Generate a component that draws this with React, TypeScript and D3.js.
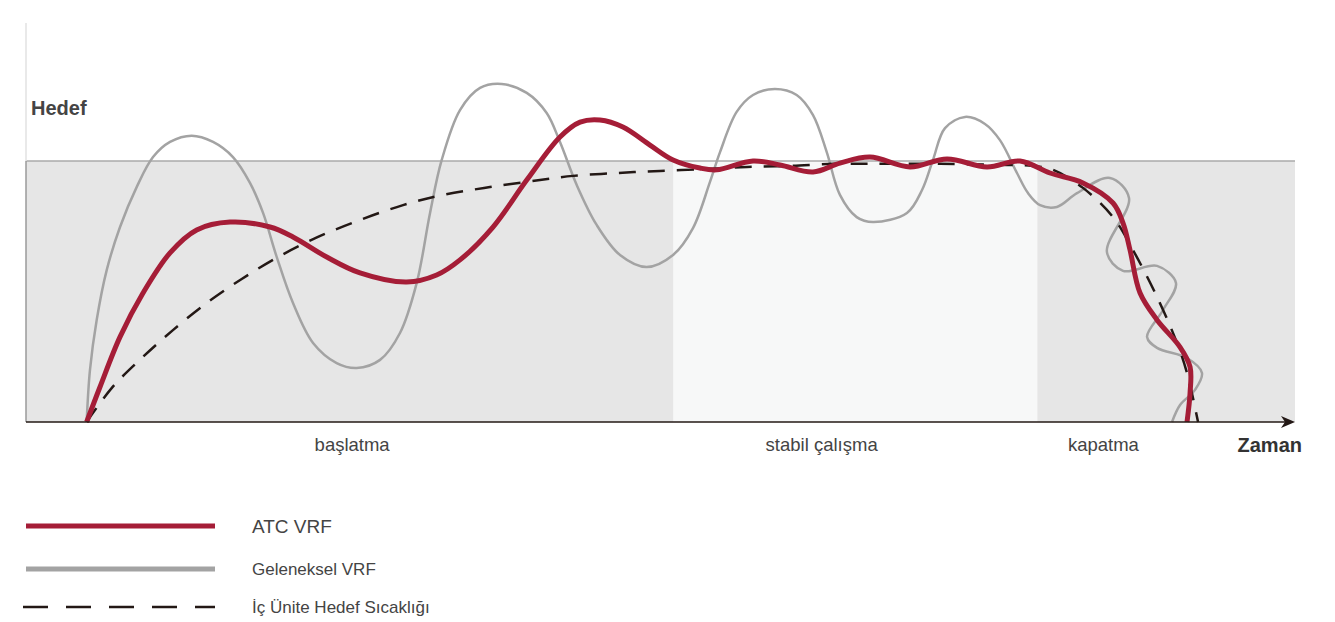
import React from "react";
import * as d3 from "d3";

// Time axis 0..100, value axis: 100 = "Hedef" (target)
const phaseLabels = ["başlatma", "stabil çalışma", "kapatma"];
const phaseCenters = [25.7, 62.7, 84.9];
const stableStart = 51.0;
const stableEnd = 79.7;

const atcT = [4.78, 5.83, 7.41, 9.22, 11.35, 13.45, 16.08, 19.23, 21.04, 23.7, 26.32, 30.0, 32.36, 34.2, 36.8, 39.46, 42.08, 43.66, 45.23, 47.04, 49.17, 50.99, 53.11, 54.43, 57.29, 59.42, 62.02, 64.14, 66.51, 69.66, 72.58, 75.73, 78.33, 80.69, 83.29, 85.66, 86.45, 87.0, 87.79, 89.13, 90.94, 91.73, 91.73, 91.49];
const atcV = [0, 13.4, 32.6, 49.4, 64.8, 73.6, 76.6, 74.7, 70.9, 63.2, 57.1, 53.6, 56.3, 62.1, 74.7, 92.7, 109.2, 114.9, 115.7, 113.0, 106.1, 100.4, 97.3, 96.6, 100.0, 98.5, 95.8, 99.2, 101.5, 97.7, 100.8, 97.7, 100.0, 95.4, 91.6, 83.9, 76.2, 65.9, 49.4, 39.1, 28.7, 21.1, 11.1, 0];

const convT = [4.78, 5.04, 5.57, 6.36, 7.41, 8.72, 10.01, 11.35, 13.06, 14.74, 16.31, 17.65, 18.68, 19.76, 21.04, 22.62, 24.48, 26.06, 27.9, 29.47, 30.79, 31.84, 32.76, 34.2, 35.78, 37.49, 39.46, 41.03, 42.08, 43.4, 44.97, 46.81, 48.91, 50.99, 52.56, 53.9, 54.69, 56.0, 57.29, 59.02, 60.73, 62.02, 63.1, 64.14, 65.46, 66.75, 69.42, 70.61, 71.47, 72.42, 74.0, 75.57, 76.75, 78.09, 78.96, 79.91, 81.24, 82.82, 85.42, 86.92, 85.18, 86.45, 89.13, 90.62, 89.6, 88.34, 89.13, 91.49, 92.67, 92.12, 90.94, 90.31];
const convV = [0, 19.9, 39.1, 58.2, 74.7, 90.0, 101.5, 107.3, 109.7, 107.3, 101.5, 91.6, 80.1, 63.2, 45.6, 30.3, 22.6, 20.7, 23.8, 34.1, 53.3, 80.1, 100.4, 119.5, 128.0, 129.5, 126.1, 118.4, 107.3, 90.8, 75.5, 64.0, 59.4, 64.0, 74.3, 92.0, 103.4, 118.8, 125.3, 127.6, 125.3, 117.6, 103.4, 87.0, 78.5, 76.6, 80.1, 88.9, 100.4, 112.6, 116.9, 114.2, 108.0, 95.4, 87.7, 83.1, 82.4, 87.7, 93.5, 85.8, 65.1, 57.9, 59.8, 53.3, 42.9, 32.6, 28.4, 24.5, 18.8, 12.3, 6.5, 0];

const targetT = [4.78, 6.75, 9.12, 11.58, 14.24, 17.0, 19.86, 23.01, 26.32, 29.71, 32.86, 36.56, 40.5, 43.11, 46.57, 49.96, 53.66, 56.82, 60.2, 63.59, 66.51, 72.03, 77.3, 79.35, 80.93, 83.29, 85.66, 87.23, 89.13, 90.7, 91.49, 92.36];
const targetV = [0, 13.0, 24.5, 35.2, 45.6, 54.8, 63.2, 70.9, 77.4, 83.1, 87.0, 90.0, 92.7, 94.3, 95.4, 96.2, 96.9, 97.7, 98.1, 98.9, 98.9, 98.9, 98.5, 98.1, 96.6, 89.7, 78.5, 65.9, 47.9, 30.3, 18.8, 0];

const legendLabels = ["ATC VRF", "Geleneksel VRF", "İç Ünite Hedef Sıcaklığı"];

const RED = "#a51d37";
const GRAY = "#a3a3a3";
const DARK = "#231815";
const FONT = "'Liberation Sans', Arial, Helvetica, sans-serif";

export default function App() {
  const W = 1335;
  const H = 622;
  const x = d3.scaleLinear().domain([0, 100]).range([26, 1295]);
  const y = d3.scaleLinear().domain([0, 100]).range([422, 161]);

  const line = d3
    .line<[number, number]>()
    .x((d) => x(d[0]))
    .y((d) => y(d[1]))
    .curve(d3.curveCatmullRom.alpha(0.5));

  const zip = (a: number[], b: number[]) => a.map((t, i) => [t, b[i]] as [number, number]);

  const x0 = x(0);
  const x1 = x(100);
  const yTop = y(100);
  const yBase = y(0);

  return (
    <div style={{ position: "absolute", left: 0, top: 0 }}>
      <svg width={W} height={H} style={{ display: "block" }}>
        {/* background zones */}
        <rect x={x0} y={yTop} width={x1 - x0} height={yBase - yTop} fill="#e6e6e6" />
        <rect x={x(stableStart)} y={yTop} width={x(stableEnd) - x(stableStart)} height={yBase - yTop} fill="#f7f8f8" />
        <line x1={x0} x2={x1} y1={yTop} y2={yTop} stroke="#aaaaaa" strokeWidth={1.5} />
        {/* vertical axis */}
        <line x1={x0} x2={x0} y1={23} y2={yTop} stroke="#e2e2e2" strokeWidth={1.5} />
        <line x1={x0} x2={x0} y1={yTop} y2={yBase} stroke="#9a9a9a" strokeWidth={1.5} />

        {/* curves */}
        <path d={line(zip(convT, convV)) || ""} fill="none" stroke={GRAY} strokeWidth={2.5} />
        <path d={line(zip(targetT, targetV)) || ""} fill="none" stroke={DARK} strokeWidth={2.5} strokeDasharray="17 12" />
        <path d={line(zip(atcT, atcV)) || ""} fill="none" stroke={RED} strokeWidth={5} strokeLinecap="butt" />

        {/* x axis */}
        <line x1={x0} x2={x1 - 6} y1={yBase} y2={yBase} stroke={DARK} strokeWidth={1.6} />
        <path d={`M${x1},${yBase} L${x1 - 14},${yBase - 6} L${x1 - 10},${yBase} L${x1 - 14},${yBase + 6} Z`} fill={DARK} />

        {/* labels */}
        <text x={31} y={115} fontFamily={FONT} fontSize={20} fontWeight="bold" fill="#444">Hedef</text>
        {phaseLabels.map((l, i) => (
          <text key={l} x={x(phaseCenters[i])} y={451} textAnchor="middle" fontFamily={FONT} fontSize={18.5} fill="#444">
            {l}
          </text>
        ))}
        <text x={1302} y={452} textAnchor="end" fontFamily={FONT} fontSize={20} fontWeight="bold" fill="#333">Zaman</text>

        {/* legend */}
        <line x1={26} x2={215} y1={526} y2={526} stroke={RED} strokeWidth={5} />
        <line x1={26} x2={215} y1={569} y2={569} stroke={GRAY} strokeWidth={5} />
        <line x1={23} x2={215} y1={607} y2={607} stroke={DARK} strokeWidth={2.5} strokeDasharray="25 18" />
        <text x={252} y={533} fontFamily={FONT} fontSize={19} fill="#444">{legendLabels[0]}</text>
        <text x={252} y={575} fontFamily={FONT} fontSize={17} fill="#444">{legendLabels[1]}</text>
        <text x={252} y={613} fontFamily={FONT} fontSize={17} fill="#444">{legendLabels[2]}</text>
      </svg>
    </div>
  );
}
